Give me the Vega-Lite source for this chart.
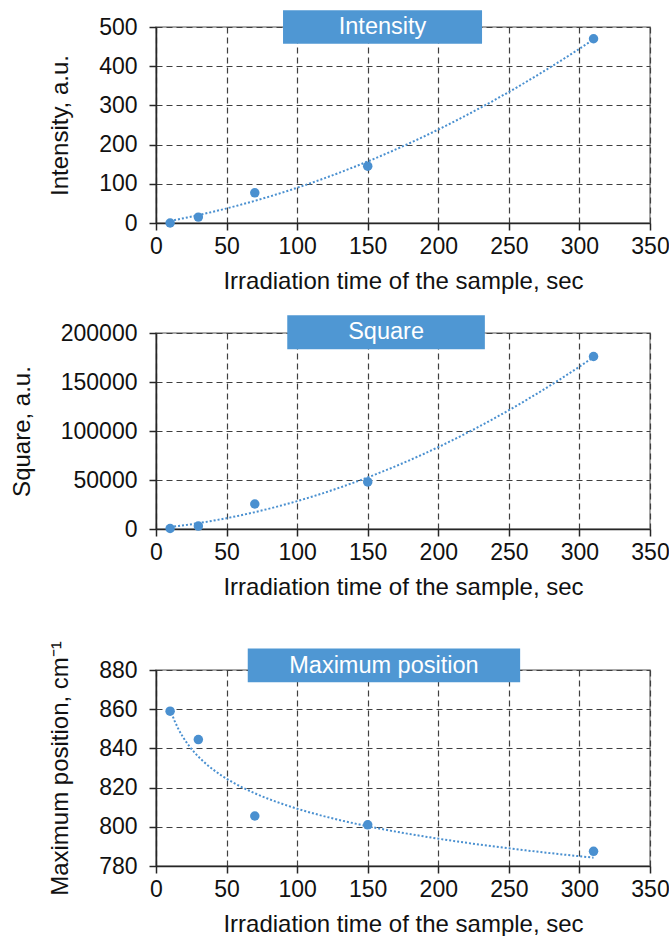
{
  "$schema": "https://vega.github.io/schema/vega-lite/v6.json",
  "padding": {"left": 9, "top": 9, "right": 0, "bottom": 0},
  "spacing": 20,
  "config": {
    "font": "Liberation Sans",
    "view": {"stroke": "#8c8c8c", "strokeWidth": 1.5},
    "title": {"fontSize": 15, "offset": 4},
    "axis": {
      "labelFontSize": 23,
      "titleFontSize": 24,
      "labelColor": "#111111",
      "titleColor": "#111111",
      "titleFontWeight": "normal",
      "domainColor": "#262626",
      "domainWidth": 1.5,
      "tickColor": "#262626",
      "tickSize": 7,
      "tickWidth": 1.5,
      "gridColor": "#404040",
      "gridDash": [6, 4],
      "gridWidth": 1.2,
      "labelFlush": false,
      "labelOverlap": false
    },
    "axisX": {"labelPadding": 5, "titlePadding": 11},
    "axisY": {"labelPadding": 12, "titlePadding": 26}
  },
  "vconcat": [
    {
      "width": 494,
      "height": 196,
      "data": {"values": [
        {"x": 10, "y": 0},
        {"x": 30, "y": 15},
        {"x": 70, "y": 77},
        {"x": 150, "y": 145},
        {"x": 310, "y": 470}
      ]},
      "layer": [
        {"transform": [{"regression": "y", "on": "x", "method": "poly", "order": 2}],
         "mark": {"type": "line", "color": "#4a90d0", "strokeDash": [2, 2], "strokeWidth": 2},
         "encoding": {
           "x": {"field": "x", "type": "quantitative", "scale": {"domain": [0, 350], "nice": false, "zero": false},
                 "axis": {"values": [0, 50, 100, 150, 200, 250, 300, 350], "title": "Irradiation time of the sample, sec"}},
           "y": {"field": "y", "type": "quantitative", "scale": {"domain": [0, 500], "nice": false, "zero": false},
                 "axis": {"values": [0, 100, 200, 300, 400, 500], "title": "Intensity, a.u."}}
         }},
        {"mark": {"type": "point", "filled": true, "size": 90, "color": "#4a90d0", "opacity": 1},
         "encoding": {
           "x": {"field": "x", "type": "quantitative", "scale": {"domain": [0, 350], "nice": false, "zero": false},
                 "axis": {"values": [0, 50, 100, 150, 200, 250, 300, 350], "title": "Irradiation time of the sample, sec"}},
           "y": {"field": "y", "type": "quantitative", "scale": {"domain": [0, 500], "nice": false, "zero": false},
                 "axis": {"values": [0, 100, 200, 300, 400, 500], "title": "Intensity, a.u."}}
         }},
        {"data": {"values": [{"t": "Intensity"}]},
         "mark": {"type": "rect", "color": "#4f97d3"},
         "encoding": {
           "x": {"datum": 90, "type": "quantitative", "scale": {"domain": [0, 350], "nice": false, "zero": false},
                 "axis": {"values": [0, 50, 100, 150, 200, 250, 300, 350], "title": "Irradiation time of the sample, sec"}},
           "x2": {"datum": 231},
           "y": {"datum": 543, "type": "quantitative", "scale": {"domain": [0, 500], "nice": false, "zero": false},
                 "axis": {"values": [0, 100, 200, 300, 400, 500], "title": "Intensity, a.u."}},
           "y2": {"datum": 457}
         }},
        {"data": {"values": [{"t": "Intensity"}]},
         "mark": {"type": "text", "color": "white", "fontSize": 23.5, "baseline": "middle", "align": "center"},
         "encoding": {
           "text": {"field": "t"},
           "x": {"datum": 160.5, "type": "quantitative", "scale": {"domain": [0, 350], "nice": false, "zero": false},
                 "axis": {"values": [0, 50, 100, 150, 200, 250, 300, 350], "title": "Irradiation time of the sample, sec"}},
           "y": {"datum": 500, "type": "quantitative", "scale": {"domain": [0, 500], "nice": false, "zero": false},
                 "axis": {"values": [0, 100, 200, 300, 400, 500], "title": "Intensity, a.u."}}
         }}
      ]
    },
    {
      "width": 494,
      "height": 196,
      "data": {"values": [
        {"x": 10, "y": 500},
        {"x": 30, "y": 3000},
        {"x": 70, "y": 25500},
        {"x": 150, "y": 48000},
        {"x": 310, "y": 176000}
      ]},
      "layer": [
        {"transform": [{"regression": "y", "on": "x", "method": "poly", "order": 2}],
         "mark": {"type": "line", "color": "#4a90d0", "strokeDash": [2, 2], "strokeWidth": 2},
         "encoding": {
           "x": {"field": "x", "type": "quantitative", "scale": {"domain": [0, 350], "nice": false, "zero": false},
                 "axis": {"values": [0, 50, 100, 150, 200, 250, 300, 350], "title": "Irradiation time of the sample, sec"}},
           "y": {"field": "y", "type": "quantitative", "scale": {"domain": [0, 200000], "nice": false, "zero": false},
                 "axis": {"values": [0, 50000, 100000, 150000, 200000], "format": "d", "title": "Square, a.u."}}
         }},
        {"mark": {"type": "point", "filled": true, "size": 90, "color": "#4a90d0", "opacity": 1},
         "encoding": {
           "x": {"field": "x", "type": "quantitative", "scale": {"domain": [0, 350], "nice": false, "zero": false},
                 "axis": {"values": [0, 50, 100, 150, 200, 250, 300, 350], "title": "Irradiation time of the sample, sec"}},
           "y": {"field": "y", "type": "quantitative", "scale": {"domain": [0, 200000], "nice": false, "zero": false},
                 "axis": {"values": [0, 50000, 100000, 150000, 200000], "format": "d", "title": "Square, a.u."}}
         }},
        {"data": {"values": [{"t": "Square"}]},
         "mark": {"type": "rect", "color": "#4f97d3"},
         "encoding": {
           "x": {"datum": 93, "type": "quantitative", "scale": {"domain": [0, 350], "nice": false, "zero": false},
                 "axis": {"values": [0, 50, 100, 150, 200, 250, 300, 350], "title": "Irradiation time of the sample, sec"}},
           "x2": {"datum": 233},
           "y": {"datum": 218100, "type": "quantitative", "scale": {"domain": [0, 200000], "nice": false, "zero": false},
                 "axis": {"values": [0, 50000, 100000, 150000, 200000], "format": "d", "title": "Square, a.u."}},
           "y2": {"datum": 183300}
         }},
        {"data": {"values": [{"t": "Square"}]},
         "mark": {"type": "text", "color": "white", "fontSize": 23.5, "baseline": "middle", "align": "center"},
         "encoding": {
           "text": {"field": "t"},
           "x": {"datum": 163, "type": "quantitative", "scale": {"domain": [0, 350], "nice": false, "zero": false},
                 "axis": {"values": [0, 50, 100, 150, 200, 250, 300, 350], "title": "Irradiation time of the sample, sec"}},
           "y": {"datum": 200700, "type": "quantitative", "scale": {"domain": [0, 200000], "nice": false, "zero": false},
                 "axis": {"values": [0, 50000, 100000, 150000, 200000], "format": "d", "title": "Square, a.u."}}
         }}
      ]
    },
    {
      "width": 494,
      "height": 196,
      "title": {"text": " "},
      "data": {"values": [
        {"x": 10, "y": 859},
        {"x": 30, "y": 844.5},
        {"x": 70, "y": 805.5},
        {"x": 150, "y": 801},
        {"x": 310, "y": 787.5}
      ]},
      "layer": [
        {"transform": [{"regression": "y", "on": "x", "method": "log"}],
         "mark": {"type": "line", "color": "#4a90d0", "strokeDash": [2, 2], "strokeWidth": 2},
         "encoding": {
           "x": {"field": "x", "type": "quantitative", "scale": {"domain": [0, 350], "nice": false, "zero": false},
                 "axis": {"values": [0, 50, 100, 150, 200, 250, 300, 350], "title": "Irradiation time of the sample, sec"}},
           "y": {"field": "y", "type": "quantitative", "scale": {"domain": [780, 880], "nice": false, "zero": false},
                 "axis": {"values": [780, 800, 820, 840, 860, 880], "title": "Maximum position, cm⁻¹"}}
         }},
        {"mark": {"type": "point", "filled": true, "size": 90, "color": "#4a90d0", "opacity": 1},
         "encoding": {
           "x": {"field": "x", "type": "quantitative", "scale": {"domain": [0, 350], "nice": false, "zero": false},
                 "axis": {"values": [0, 50, 100, 150, 200, 250, 300, 350], "title": "Irradiation time of the sample, sec"}},
           "y": {"field": "y", "type": "quantitative", "scale": {"domain": [780, 880], "nice": false, "zero": false},
                 "axis": {"values": [780, 800, 820, 840, 860, 880], "title": "Maximum position, cm⁻¹"}}
         }},
        {"data": {"values": [{"t": "Maximum position"}]},
         "mark": {"type": "rect", "color": "#4f97d3"},
         "encoding": {
           "x": {"datum": 65, "type": "quantitative", "scale": {"domain": [0, 350], "nice": false, "zero": false},
                 "axis": {"values": [0, 50, 100, 150, 200, 250, 300, 350], "title": "Irradiation time of the sample, sec"}},
           "x2": {"datum": 258},
           "y": {"datum": 891, "type": "quantitative", "scale": {"domain": [780, 880], "nice": false, "zero": false},
                 "axis": {"values": [780, 800, 820, 840, 860, 880], "title": "Maximum position, cm⁻¹"}},
           "y2": {"datum": 873.7}
         }},
        {"data": {"values": [{"t": "Maximum position"}]},
         "mark": {"type": "text", "color": "white", "fontSize": 23.5, "baseline": "middle", "align": "center"},
         "encoding": {
           "text": {"field": "t"},
           "x": {"datum": 161.5, "type": "quantitative", "scale": {"domain": [0, 350], "nice": false, "zero": false},
                 "axis": {"values": [0, 50, 100, 150, 200, 250, 300, 350], "title": "Irradiation time of the sample, sec"}},
           "y": {"datum": 882.2, "type": "quantitative", "scale": {"domain": [780, 880], "nice": false, "zero": false},
                 "axis": {"values": [780, 800, 820, 840, 860, 880], "title": "Maximum position, cm⁻¹"}}
         }}
      ]
    }
  ]
}
